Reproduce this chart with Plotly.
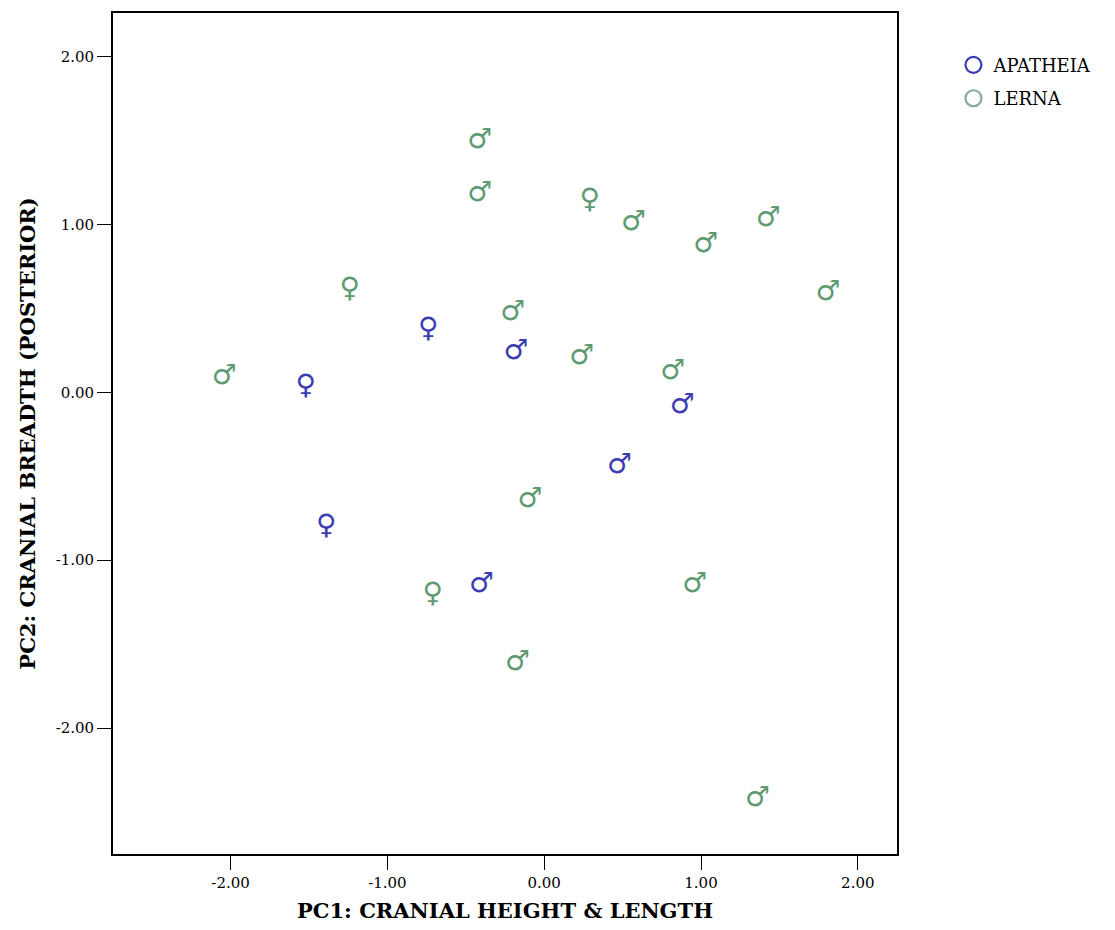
import plotly.graph_objects as go

# LERNA (green)
lerna_pc1 = [-0.41, -0.41, 0.29, 0.57, 1.43, 1.03, 1.81, -1.24, -0.20, 0.24, 0.82, -2.04, -0.09, 0.96, -0.71, -0.17, 1.36]
lerna_pc2 = [1.50, 1.18, 1.14, 1.01, 1.03, 0.88, 0.59, 0.61, 0.47, 0.21, 0.12, 0.09, -0.64, -1.15, -1.21, -1.61, -2.42]
lerna_sex = ["M", "M", "F", "M", "M", "M", "M", "F", "M", "M", "M", "M", "M", "M", "F", "M", "M"]

# APATHEIA (blue)
apath_pc1 = [-0.74, -0.18, -1.52, 0.88, 0.48, -1.39, -0.40]
apath_pc2 = [0.37, 0.24, 0.03, -0.08, -0.44, -0.80, -1.15]
apath_sex = ["F", "M", "F", "M", "M", "F", "M"]

tick_vals = [-2, -1, 0, 1, 2]
tick_text = ["-2.00", "-1.00", "0.00", "1.00", "2.00"]

BLUE = "#3c3cb4"
GREEN = "#5e9a72"
GREEN_LEG = "#86ab98"
SYM = {"M": "\u2642", "F": "\u2640"}

fig = go.Figure()

for xs, ys, sx, col in [(apath_pc1, apath_pc2, apath_sex, BLUE), (lerna_pc1, lerna_pc2, lerna_sex, GREEN)]:
    fig.add_trace(go.Scatter(
        x=xs, y=ys, mode="text", text=[SYM[s] for s in sx],
        textfont=dict(family="DejaVu Sans", size=28, color=col, weight="bold"),
        showlegend=False, hoverinfo="x+y"))

for name, col in [("APATHEIA", BLUE), ("LERNA", GREEN_LEG)]:
    fig.add_trace(go.Scatter(
        x=[None], y=[None], mode="markers", name=name, legendgroup=name,
        marker=dict(symbol="circle-open", size=22, color=col, line=dict(width=2.2, color=col))))

axis_common = dict(
    tickvals=tick_vals, ticktext=tick_text, ticks="outside", ticklen=14, tickwidth=1,
    tickcolor="black", showgrid=False, zeroline=False, showline=True, linecolor="black",
    linewidth=1.8, mirror=True,
    tickfont=dict(family="DejaVu Serif", size=15, color="black"),
)

fig.update_xaxes(range=[-2.75, 2.25],
                 title=dict(text="<b>PC1: CRANIAL HEIGHT &amp; LENGTH</b>",
                            font=dict(family="DejaVu Serif", size=21, color="black"),
                            standoff=12),
                 **axis_common)
fig.update_yaxes(range=[-2.75, 2.26],
                 title=dict(text="<b>PC2: CRANIAL BREADTH (POSTERIOR)</b>",
                            font=dict(family="DejaVu Serif", size=21, color="black"),
                            standoff=14),
                 **axis_common)

fig.update_layout(
    width=1115, height=930,
    margin=dict(l=113, r=218, t=11, b=75),
    plot_bgcolor="white", paper_bgcolor="white",
    legend=dict(x=1.072, y=0.96, xanchor="left", yanchor="top",
                font=dict(family="DejaVu Serif", size=18, color="black"),
                tracegroupgap=7),
)

fig.write_html("out.html")
